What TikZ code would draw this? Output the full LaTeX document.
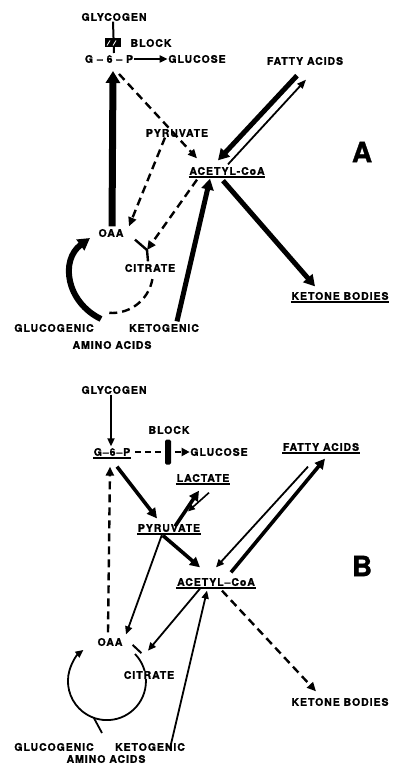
\documentclass[tikz,border=0pt]{standalone}
\usepackage{fontspec}
\setmainfont[LetterSpace=9, BoldFeatures={FakeBold=1.2}]{TeX Gyre Heros}
\usetikzlibrary{arrows.meta}
\begin{document}
\begin{tikzpicture}[x=1pt,y=-1pt,
  lab/.style={font=\bfseries\fontsize{10.5}{12}\selectfont, inner sep=0.5pt},
  big/.style={font=\bfseries\fontsize{28}{30}\selectfont, inner sep=0pt},
  thk/.style={line width=5pt, -{Triangle[length=11pt,width=12pt]}},
  thkb/.style={line width=3.6pt, -{Triangle[length=10pt,width=10pt]}},
  thn/.style={line width=1.8pt, -{Triangle[length=8pt,width=7pt]}},
  dsh/.style={line width=2.4pt, dash pattern=on 8pt off 5pt, -{Triangle[length=9pt,width=8pt]}},
  dshl/.style={line width=2.4pt, dash pattern=on 8pt off 5pt},
  ul/.style={line width=1.6pt}]
\useasboundingbox (0,0) rectangle (393,765);

% ================= Panel A =================
\node[lab] (glyA) at (114,17) {GLYCOGEN};
\node[lab] (g6pA) at (109,59) {G -- 6 -- P};
\coordinate (sixAtop) at (114,53);
\coordinate (sixAbot) at (113,71);
\coordinate (sixAr) at (119,74);
\node[lab] (glucA) at (197,59) {GLUCOSE};
\node[lab] (faA) at (305,61) {FATTY ACIDS};
\node[lab] (pyrA) at (177,133) {PYRUVATE};
\node[lab] (acA) at (227,171) {ACETYL-CoA};
\node[lab] (oaaA) at (111,233) {OAA};
\node[lab] (citA) at (150,268) {CITRATE};
\node[lab] (glucoA) at (54,328) {GLUCOGENIC};
\node[lab] (ketoA) at (164,328) {KETOGENIC};
\node[lab] (aminoA) at (112,345) {AMINO ACIDS};
\node[lab] (ketA) at (340,296) {KETONE BODIES};
\node[lab] (blkA) at (151,43) {BLOCK};
\node[big] (labA) at (362,152) {A};
\coordinate (jA) at (147,250);
\coordinate (oaaAin) at (90,238);
\coordinate (glucAstart) at (101,319);

\draw[ul] ([yshift=-1.5pt]acA.south west) -- ([yshift=-1.5pt]acA.south east);
\draw[ul] ([yshift=-1.5pt]ketA.south west) -- ([yshift=-1.5pt]ketA.south east);

\draw[line width=2pt] (glyA.south) ++(-1,0) -- (sixAtop);
\node[fill=black, minimum width=16pt, minimum height=9pt, inner sep=0pt] (blockA) at (113,43) {};
\draw[white, line width=0.8pt] (107,45.5) -- (110,40.5) (113,45.5) -- (116,40.5);
\draw[thn] (g6pA.east) -- (glucA.west);
\draw[line width=7pt, -{Triangle[length=12pt,width=14pt]}] (oaaA.north) ++(1,-2) -- (sixAbot);
\draw[dsh] (sixAr) -- ([xshift=-30pt,yshift=8pt]acA.north);
\draw[dsh] ([xshift=-12pt]pyrA.south) -- ([xshift=18pt,yshift=2pt]oaaA.north);
\draw[dsh] ([xshift=-30pt,yshift=-4pt]acA.south) -- (jA);
\draw[line width=2.4pt] ([xshift=24pt,yshift=-2pt]oaaA.south) -- (jA) -- ([xshift=-2pt,yshift=2pt]citA.north);
\draw[thk] ([xshift=13pt,yshift=2pt]ketoA.north) -- ([xshift=-17pt,yshift=-3pt]acA.south);
\draw[thk] ([xshift=-4pt,yshift=-5pt]acA.south) -- ([xshift=-25pt,yshift=5pt]ketA.north);
\draw[thk] ([xshift=-8pt,yshift=-10pt]faA.south) -- ([xshift=-9pt,yshift=6pt]acA.north);
\draw[line width=1.8pt, -{Triangle[length=9pt,width=7pt]}] ([xshift=1pt,yshift=2pt]acA.north) -- ([xshift=1pt,yshift=-14pt]faA.south);
% cycle A
\draw[dshl] (152.4,279.1) arc[start angle=10, end angle=100, radius=41];
\draw[line width=6pt, -{Triangle[length=12pt,width=13pt]}] (glucAstart) .. controls (66,302) and (60,260) .. (oaaAin);

% ================= Panel B =================
\node[lab] (glyB) at (114,390) {GLYCOGEN};
\node[lab] (g6pB) at (112,452) {G--6--P};
\node[lab] (blkB) at (169,430) {BLOCK};
\node[lab] (glucB) at (219,452) {GLUCOSE};
\node[lab] (faB) at (321,447) {FATTY ACIDS};
\node[lab] (lacB) at (203,478) {LACTATE};
\node[lab] (pyrB) at (169,528) {PYRUVATE};
\node[lab] (acB) at (216,582) {ACETYL--CoA};
\node[lab] (oaaB) at (110,642) {OAA};
\node[lab] (ketB) at (340,702) {KETONE BODIES};
\node[big] (labB) at (362,566) {B};
\node[lab] (glucoB) at (54,747) {GLUCOGENIC};
\node[lab] (ketoB) at (150,747) {KETOGENIC};
\node[lab] (aminoB) at (106,759) {AMINO ACIDS};
\coordinate (jB) at (137,649);
\coordinate (tailB) at (102,733);

\foreach \n in {g6pB,faB,lacB,pyrB,acB}
  \draw[ul] ([yshift=-1.5pt]\n.south west) -- ([yshift=-1.5pt]\n.south east);

\draw[thn] ([xshift=-3pt]glyB.south) -- ([xshift=-1pt,yshift=1pt]g6pB.north);
\draw[line width=2.4pt, dash pattern=on 6pt off 4pt, -{Triangle[length=8pt,width=8pt]}] ([xshift=4pt]g6pB.east) -- (glucB.west);
\node[fill=black, rounded corners=1.5pt, minimum width=6pt, minimum height=25pt, inner sep=0pt] (blockB) at (168,452) {};
\draw[thkb] ([xshift=5pt,yshift=-10pt]g6pB.south) -- ([xshift=-12pt,yshift=5pt]pyrB.north);
\draw[thkb] ([xshift=-6pt,yshift=-3pt]pyrB.south) -- ([xshift=-16pt,yshift=10pt]acB.north);
\draw[dsh] ([xshift=-2pt,yshift=5pt]oaaB.north) -- ([xshift=-2pt,yshift=-10pt]g6pB.south);
\draw[thn] ([xshift=-7pt,yshift=-2pt]pyrB.south) -- ([xshift=16pt,yshift=3pt]oaaB.north);
\draw[thkb] ([xshift=6pt,yshift=-3pt]pyrB.north) -- ([xshift=-4pt,yshift=-8pt]lacB.south);
\draw[line width=1.6pt, -{Triangle[length=7pt,width=6pt]}] ([xshift=6pt,yshift=-10pt]lacB.south) -- ([xshift=19pt,yshift=12pt]pyrB.north);
\draw[thn] ([xshift=-13pt,yshift=-15pt]faB.south) -- ([xshift=0pt,yshift=10pt]acB.north);
\draw[thkb] ([xshift=15pt,yshift=5pt]acB.north) -- ([xshift=4pt,yshift=-7pt]faB.south);
\draw[thn] ([xshift=-16pt,yshift=-2pt]acB.south) -- ([xshift=38pt,yshift=-4pt]oaaB.south);
\draw[line width=2pt] (132.6,644.9) -- (141.4,653.1);
\draw[line width=1.8pt, -{Triangle[length=8pt,width=7pt]}] (135,654) arc[start angle=-44, end angle=233, radius=39];
\draw[line width=1.8pt] (tailB) -- (93.7,717.6);
\node[lab, fill=white] (citB) at (149,675) {CITRATE};
\draw[thn] ([xshift=20pt,yshift=-6pt]ketoB.north) -- ([xshift=-9pt,yshift=-4pt]acB.south);
\draw[dsh] ([xshift=6pt,yshift=-4pt]acB.south) -- ([xshift=-24pt,yshift=6pt]ketB.north);
\end{tikzpicture}
\end{document}
